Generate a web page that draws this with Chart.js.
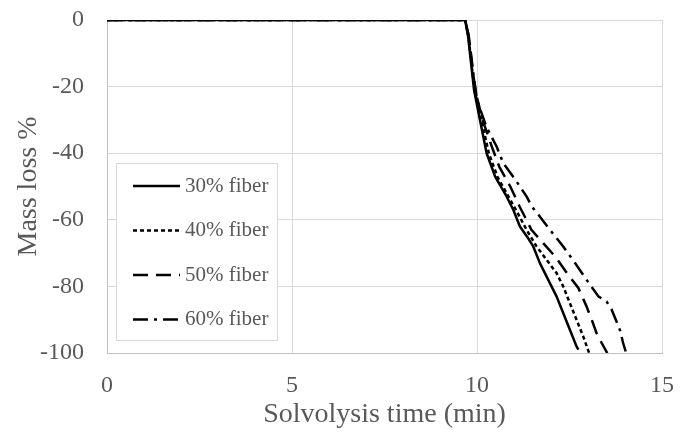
<!DOCTYPE html>
<html>
<head>
<meta charset="utf-8">
<script src="https://cdn.jsdelivr.net/npm/chart.js@4"></script>
<style>
  html, body { margin: 0; padding: 0; background: #ffffff; }
  #wrap { width: 691px; height: 435px; }
</style>
</head>
<body>
<div id="wrap"><canvas id="c" width="691" height="435"></canvas></div>
<script>
// ---- data ----
const seriesLabels = ["30% fiber", "40% fiber", "50% fiber", "60% fiber"];

const time30 = [0, 9.68, 9.76, 9.85, 9.92, 10.08, 10.26, 10.49, 10.80, 10.98, 11.16, 11.35, 11.52, 11.70, 11.97, 12.15, 12.33, 12.51, 12.69, 12.74];
const mass30 = [0, 0, -5, -14, -21, -30, -40, -47, -53, -57, -62, -65, -68, -73, -79, -83, -88, -93, -98, -99];

const time40 = [0, 9.68, 9.77, 9.87, 9.95, 10.12, 10.32, 10.55, 10.85, 11.10, 11.34, 11.61, 11.88, 12.15, 12.33, 12.51, 12.69, 12.87, 13.03];
const mass40 = [0, 0, -5, -15, -22, -30, -40, -47, -53, -58, -63, -68, -72, -76, -80, -85, -90, -95, -100];

const time50 = [0, 9.68, 9.78, 9.88, 9.97, 10.15, 10.40, 10.60, 10.90, 11.15, 11.29, 11.47, 11.75, 12.11, 12.40, 12.74, 12.96, 13.10, 13.23, 13.37, 13.52];
const mass50 = [0, 0, -5, -15, -22, -30, -38, -44, -50, -56, -59, -63, -66.5, -71, -75.5, -80.5, -86, -90, -94, -97, -100];

const time60 = [0, 9.68, 9.78, 9.90, 10.00, 10.25, 10.53, 10.71, 10.89, 11.07, 11.34, 11.48, 11.66, 11.97, 12.33, 12.65, 12.96, 13.28, 13.50, 13.64, 13.86, 13.95, 14.03];
const mass60 = [0, 0, -5, -16, -24, -32, -38, -43, -45.7, -48.5, -53, -56, -58.5, -63, -68, -73, -78, -83, -84.5, -87, -93, -97, -100];

const xTicks = [0, 5, 10, 15];
const yTicks = [0, -20, -40, -60, -80, -100];
const xTitle = "Solvolysis time (min)";
const yTitle = "Mass loss %";

// ---- build ----
function pts(xs, ys) { return xs.map((x, i) => ({ x: x, y: ys[i] })); }
const dashes = [[], [4, 3], [15, 8], [15, 6, 3, 6]];
const allX = [time30, time40, time50, time60];
const allY = [mass30, mass40, mass50, mass60];

const datasets = seriesLabels.map((lab, i) => ({
  label: lab,
  data: pts(allX[i], allY[i]),
  borderColor: "#000000",
  borderWidth: 2.5,
  borderDash: dashes[i],
  borderCapStyle: "butt",
  borderJoinStyle: "round",
  pointRadius: 0,
  tension: 0,
  fill: false
}));

const serif = "'Liberation Serif', 'Times New Roman', serif";
const grey = "#595959";

const legendPlugin = {
  id: "boxLegend",
  afterDatasetsDraw(chart) {
    const ctx = chart.ctx;
    const a = chart.chartArea;
    const bx = a.left + 9, by = a.top + 143, bw = 161, bh = 177;
    ctx.save();
    ctx.fillStyle = "#ffffff";
    ctx.fillRect(bx, by, bw, bh);
    ctx.strokeStyle = "#d9d9d9";
    ctx.lineWidth = 1;
    ctx.strokeRect(bx + 0.5, by + 0.5, bw, bh);
    chart.data.datasets.forEach((ds, i) => {
      const yy = by + 23 + i * 44.5;
      ctx.strokeStyle = ds.borderColor;
      ctx.lineWidth = ds.borderWidth;
      ctx.setLineDash(ds.borderDash);
      ctx.lineCap = "butt";
      ctx.beginPath();
      ctx.moveTo(bx + 17, yy);
      ctx.lineTo(bx + 64, yy);
      ctx.stroke();
      ctx.setLineDash([]);
      ctx.fillStyle = grey;
      ctx.font = "21px " + serif;
      ctx.textBaseline = "middle";
      ctx.textAlign = "left";
      ctx.fillText(ds.label, bx + 69, yy);
    });
    ctx.restore();
  }
};

new Chart(document.getElementById("c"), {
  type: "line",
  data: { datasets: datasets },
  options: {
    responsive: false,
    animation: false,
    layout: { padding: { top: 20, right: 29, left: 0, bottom: 0 } },
    plugins: { legend: { display: false }, tooltip: { enabled: false } },
    scales: {
      x: {
        type: "linear",
        min: 0, max: 15,
        afterBuildTicks: (s) => { s.ticks = xTicks.map(v => ({ value: v })); },
        afterFit: (s) => { s.height = 82; },
        grid: { color: "#d9d9d9", lineWidth: 1, drawTicks: true, tickLength: 18, tickColor: "rgba(0,0,0,0)" },
        border: { color: "#bfbfbf", width: 1 },
        ticks: { color: grey, font: { family: serif, size: 24 }, padding: 0, maxRotation: 0 },
        title: { display: true, text: xTitle, color: grey, font: { family: serif, size: 28 }, padding: { top: 0, bottom: 4 } }
      },
      y: {
        type: "linear",
        min: -100, max: 0,
        afterBuildTicks: (s) => { s.ticks = yTicks.map(v => ({ value: v })); },
        afterFit: (s) => { s.width = 107; },
        grid: { color: "#d9d9d9", lineWidth: 1, drawTicks: true, tickLength: 23, tickColor: "rgba(0,0,0,0)" },
        border: { color: "#bfbfbf", width: 1 },
        ticks: { color: grey, font: { family: serif, size: 24 }, padding: 0 },
        title: { display: true, text: yTitle, color: grey, font: { family: serif, size: 28 }, padding: { top: 12, bottom: 0 } }
      }
    }
  },
  plugins: [legendPlugin]
});
</script>
</body>
</html>
